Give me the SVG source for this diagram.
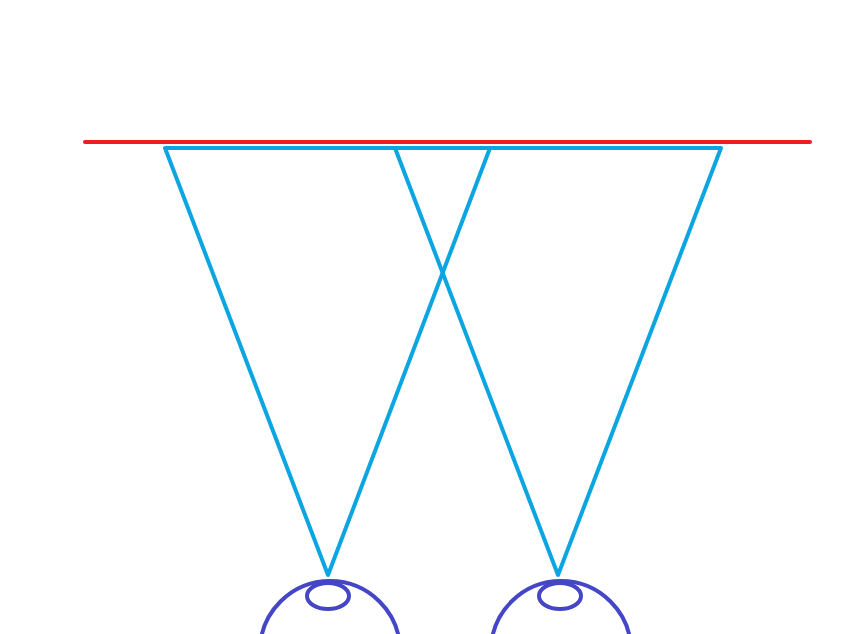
<svg xmlns="http://www.w3.org/2000/svg" width="862" height="634" viewBox="0 0 862 634">
<style>.c{fill:none;stroke:#0ba5e2;stroke-width:4;stroke-linejoin:round}.e{fill:none;stroke:#4545c8;stroke-width:4}</style>
<rect width="862" height="634" fill="#fff"/>
<line x1="85" y1="142" x2="810" y2="142" stroke="#ee1c24" stroke-width="4" stroke-linecap="round"/>
<polygon class="c" points="165,148 490,148 328,575"/>
<polygon class="c" points="395,148 721,148 558,575"/>
<circle class="e" cx="330" cy="651" r="70"/>
<ellipse class="e" cx="328" cy="596" rx="21" ry="13"/>
<circle class="e" cx="561" cy="651" r="70"/>
<ellipse class="e" cx="560" cy="596" rx="21" ry="13"/>
</svg>
